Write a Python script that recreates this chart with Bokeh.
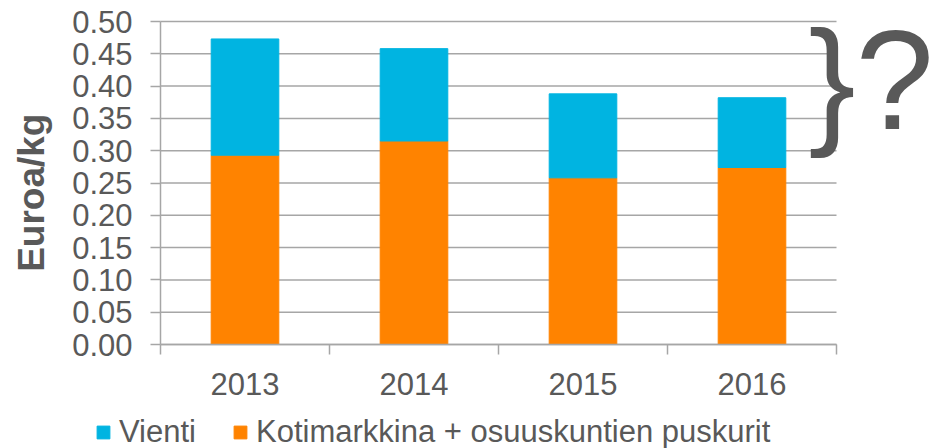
import numpy as np
from bokeh.plotting import figure
from bokeh.models import (ColumnDataSource, Range1d, FixedTicker, Legend, LegendItem,
                          Label, PrintfTickFormatter)
from bokeh.embed import file_html
from bokeh.resources import INLINE

years = ["2013", "2014", "2015", "2016"]
kotimarkkina = [0.293, 0.315, 0.258, 0.274]
vienti = [0.180, 0.143, 0.130, 0.108]
y_ticks = [0.00, 0.05, 0.10, 0.15, 0.20, 0.25, 0.30, 0.35, 0.40, 0.45, 0.50]
series_labels = ["Vienti", "Kotimarkkina + osuuskuntien puskurit"]

ORANGE = "#FF8300"
BLUE = "#00B4E1"
TEXT = "#595959"
GRID = "#a6a6a6"
FONT = "Liberation Sans"

W, H = 934, 448
# plot area inside the canvas (pixels): left, right, top, bottom
L, R, T, B = 160, 836, 21, 344

n = len(years)
centers = [i + 0.5 for i in range(n)]
source = ColumnDataSource(dict(x=centers, koti=kotimarkkina, vienti=vienti))

xs = n / (R - L)          # data units per pixel
ys = 0.5 / (B - T)
x_range = Range1d(-L * xs, (W - L) * xs)
y_range = Range1d(-(H - B) * ys, 0.5 + T * ys)

p = figure(width=W, height=H, x_range=x_range, y_range=y_range,
           output_backend="svg", toolbar_location=None, min_border=0)
p.outline_line_color = None
p.background_fill_color = "white"
p.border_fill_color = "white"

# horizontal grid lines limited to the category area
p.segment(x0=[0] * len(y_ticks), x1=[n] * len(y_ticks), y0=y_ticks, y1=y_ticks,
          line_color=GRID, line_width=1.5, level="underlay")

rs = p.vbar_stack(["koti", "vienti"], x="x", width=0.4, color=[ORANGE, BLUE], source=source)

# y axis
p.yaxis.fixed_location = 0
p.yaxis.bounds = (0, 0.5)
p.yaxis.ticker = FixedTicker(ticks=y_ticks)
p.yaxis.formatter = PrintfTickFormatter(format="%.2f")
p.yaxis.major_tick_out = 10
p.yaxis.major_tick_in = 0
p.yaxis.minor_tick_line_color = None
p.yaxis.axis_line_color = GRID
p.yaxis.axis_line_width = 1.5
p.yaxis.major_tick_line_color = GRID
p.yaxis.major_tick_line_width = 1.5
p.yaxis.major_label_text_font = FONT
p.yaxis.major_label_text_font_size = "31px"
p.yaxis.major_label_text_color = TEXT
p.yaxis.major_label_standoff = 18

# x axis
p.xaxis.fixed_location = 0
p.xaxis.bounds = (0, n)
p.xaxis.ticker = FixedTicker(ticks=centers, minor_ticks=list(range(n + 1)))
p.xaxis.major_label_overrides = {c: y for c, y in zip(centers, years)}
p.xaxis.major_tick_line_color = None
p.xaxis.major_tick_out = 0
p.xaxis.major_tick_in = 0
p.xaxis.minor_tick_out = 10
p.xaxis.minor_tick_in = 0
p.xaxis.minor_tick_line_color = GRID
p.xaxis.minor_tick_line_width = 1.5
p.xaxis.axis_line_color = GRID
p.xaxis.axis_line_width = 1.5
p.xaxis.major_label_text_font = FONT
p.xaxis.major_label_text_font_size = "31px"
p.xaxis.major_label_text_color = TEXT
p.xaxis.major_label_standoff = 18

p.xgrid.visible = False
p.ygrid.visible = False

ylabel = Label(x=0, x_offset=-129, y=0.235, text="Euroa/kg", angle=np.pi / 2,
               text_font=FONT, text_font_size="37px", text_font_style="bold",
               text_color=TEXT, text_align="center", text_baseline="middle")
p.add_layout(ylabel)

brace = Label(x=n, y=0.41, x_offset=-28, text="}?", text_font=FONT,
              text_font_size="141px", text_color=TEXT, text_baseline="alphabetic")
p.add_layout(brace)

legend = Legend(items=[LegendItem(label=series_labels[0], renderers=[rs[1]]),
                       LegendItem(label=series_labels[1], renderers=[rs[0]])],
                orientation="horizontal", location=(95, -2),
                padding=0, margin=0, spacing=36, label_standoff=8,
                glyph_width=16, glyph_height=16,
                label_text_font=FONT, label_text_font_size="31px", label_text_color=TEXT,
                border_line_color=None, background_fill_alpha=0)
p.add_layout(legend, "center")

open("out.html", "w").write(file_html(p, INLINE))
